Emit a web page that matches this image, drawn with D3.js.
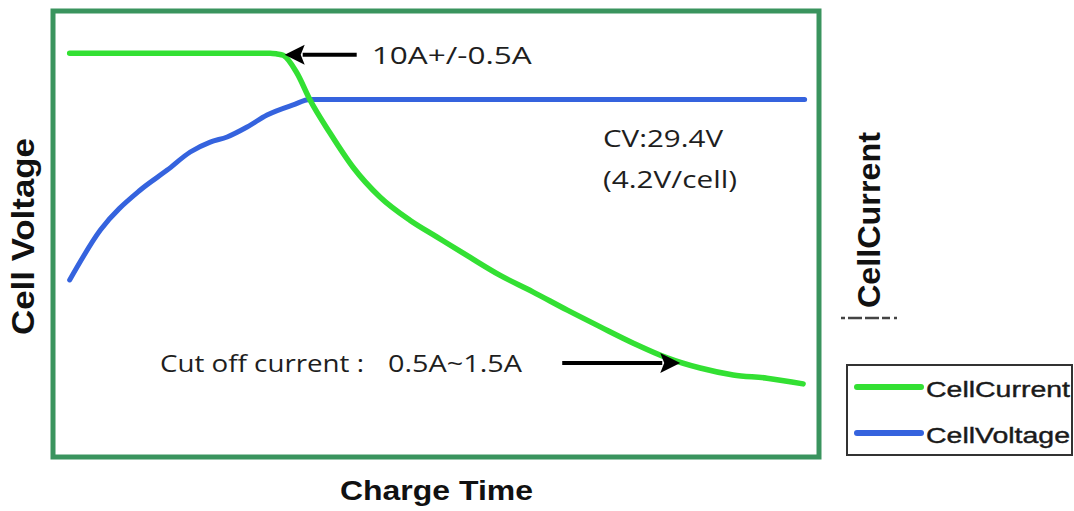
<!DOCTYPE html>
<html>
<head>
<meta charset="utf-8">
<script src="https://cdn.jsdelivr.net/npm/d3@7"></script>
<style>
  html, body { margin: 0; padding: 0; background: #fff; }
  svg { display: block; }
</style>
</head>
<body>
<svg id="chart" width="1074" height="511"></svg>
<script>
// ---- data (time in arbitrary units 0-100, current in A, voltage in V) ----
const currentTime  = [2.3, 28.4, 29.3, 30.1, 31.9, 33.6, 36.2, 39.2, 42.7, 46.6, 50.1, 54.4, 58.3, 62.6, 67.1, 71.4, 75.7, 80.1, 84.4, 88.7, 93.1, 97.8];
const currentValue = [9.94, 9.94, 9.92, 9.89, 9.45, 8.79, 7.98, 7.14, 6.41, 5.84, 5.43, 4.93, 4.49, 4.08, 3.63, 3.22, 2.82, 2.46, 2.21, 2.04, 1.96, 1.82];
const voltageTime  = [2.3, 6.3, 11.5, 15.0, 18.0, 20.6, 22.8, 25.4, 28.0, 31.4, 33.6, 98.0];
const voltageValue = [20.14, 22.70, 24.76, 25.78, 26.71, 27.22, 27.48, 27.99, 28.61, 29.13, 29.40, 29.40];
const seriesNames  = ["CellCurrent", "CellVoltage"];
const seriesColors = ["#33e033", "#3563de"];
const annotations  = [
  { text: "10A+/-0.5A", t: 30.3, v: 9.9, dir: -1 },
  { text: "0.5A~1.5A", t: 81.8, v: 2.33, dir: 1 }
];

const svg = d3.select("#chart");
const frame = { left: 53, top: 11, right: 819, bottom: 457 };

const x  = d3.scaleLinear().domain([0, 100]).range([52, 820]);
const yI = d3.scaleLinear().domain([0, 11]).range([458, 10]);
const yV = d3.scaleLinear().domain([11, 34]).range([458, 10]);

// frame
svg.append("rect")
  .attr("x", frame.left).attr("y", frame.top)
  .attr("width", frame.right - frame.left).attr("height", frame.bottom - frame.top)
  .attr("fill", "none").attr("stroke", "#3a945e").attr("stroke-width", 5);

// lines
const currentData = currentTime.map((t, i) => ({ t, v: currentValue[i] }));
const voltageData = voltageTime.map((t, i) => ({ t, v: voltageValue[i] }));

svg.append("path")
  .datum(voltageData)
  .attr("fill", "none").attr("stroke", seriesColors[1]).attr("stroke-width", 5)
  .attr("stroke-linecap", "round").attr("stroke-linejoin", "round")
  .attr("d", d3.line().x(d => x(d.t)).y(d => yV(d.v)).curve(d3.curveMonotoneX));

svg.append("path")
  .datum(currentData)
  .attr("fill", "none").attr("stroke", seriesColors[0]).attr("stroke-width", 5.5)
  .attr("stroke-linecap", "round").attr("stroke-linejoin", "round")
  .attr("d", d3.line().x(d => x(d.t)).y(d => yI(d.v)).curve(d3.curveMonotoneX));

// arrows
function arrow(tipX, tipY, dir, len) {
  const headL = 20, headW = 10;
  const tailX = tipX - dir * len;
  const baseX = tipX - dir * headL;
  svg.append("line")
    .attr("x1", tailX).attr("y1", tipY).attr("x2", baseX + dir * 2).attr("y2", tipY)
    .attr("stroke", "#000").attr("stroke-width", 4);
  svg.append("path")
    .attr("d", `M${tipX},${tipY} L${baseX},${tipY - headW} L${baseX + dir * 4},${tipY} L${baseX},${tipY + headW} Z`)
    .attr("fill", "#000");
}
const a1 = annotations[0], a2 = annotations[1];
arrow(x(a1.t), yI(a1.v), a1.dir, 72);
arrow(x(a2.t), yI(a2.v), a2.dir, 118);

const annFont = "'Open Sans', 'Noto Sans', sans-serif";
function label(txt, tx, ty, len, size) {
  svg.append("text")
    .attr("x", tx).attr("y", ty)
    .attr("font-family", annFont).attr("font-size", size || 23)
    .attr("fill", "#1e1e1e")
    .attr("textLength", len).attr("lengthAdjust", "spacingAndGlyphs")
    .text(txt);
}
label(a1.text, x(a1.t) + 87, yI(a1.v) + 9, 160);
label("CV:29.4V", 603, 147, 120);
label("(4.2V/cell)", 603, 188, 134);
label("Cut off current :", 160, 372, 204);
label(a2.text, 388, 372, 134);

// axis titles
svg.append("text")
  .attr("transform", "translate(34,335) rotate(-90)")
  .attr("font-family", "'Liberation Sans', Arial, sans-serif").attr("font-weight", "bold")
  .attr("font-size", 31).attr("fill", "#111")
  .attr("textLength", 197).attr("lengthAdjust", "spacingAndGlyphs")
  .text("Cell Voltage");

svg.append("text")
  .attr("x", 340).attr("y", 500)
  .attr("font-family", "'Liberation Sans', Arial, sans-serif").attr("font-weight", "bold")
  .attr("font-size", 28).attr("fill", "#111")
  .attr("textLength", 193).attr("lengthAdjust", "spacingAndGlyphs")
  .text("Charge Time");

svg.append("text")
  .attr("transform", "translate(880,308) rotate(-90)")
  .attr("font-family", "'Liberation Sans', Arial, sans-serif").attr("font-weight", "bold")
  .attr("font-size", 32).attr("fill", "#111")
  .attr("textLength", 176).attr("lengthAdjust", "spacingAndGlyphs")
  .text("CellCurrent");

svg.append("line")
  .attr("x1", 841).attr("y1", 318).attr("x2", 900).attr("y2", 318)
  .attr("stroke", "#444").attr("stroke-width", 2.5)
  .attr("stroke-dasharray", "4,3,14,3,14,3,8");

// legend
const lg = svg.append("g");
lg.append("rect")
  .attr("x", 847).attr("y", 365).attr("width", 225).attr("height", 90)
  .attr("fill", "#fff").attr("stroke", "#333").attr("stroke-width", 2);
seriesNames.forEach((name, i) => {
  const yy = 387 + i * 46;
  lg.append("line")
    .attr("x1", 857).attr("x2", 921).attr("y1", yy).attr("y2", yy)
    .attr("stroke", seriesColors[i]).attr("stroke-width", 6).attr("stroke-linecap", "round");
  lg.append("text")
    .attr("x", 926).attr("y", yy + 10)
    .attr("font-family", "'Liberation Sans', Arial, sans-serif")
    .attr("font-size", 22).attr("fill", "#1a1a1a")
    .attr("stroke", "#1a1a1a").attr("stroke-width", 0.4)
    .attr("textLength", 144).attr("lengthAdjust", "spacingAndGlyphs")
    .text(name);
});
</script>
</body>
</html>
